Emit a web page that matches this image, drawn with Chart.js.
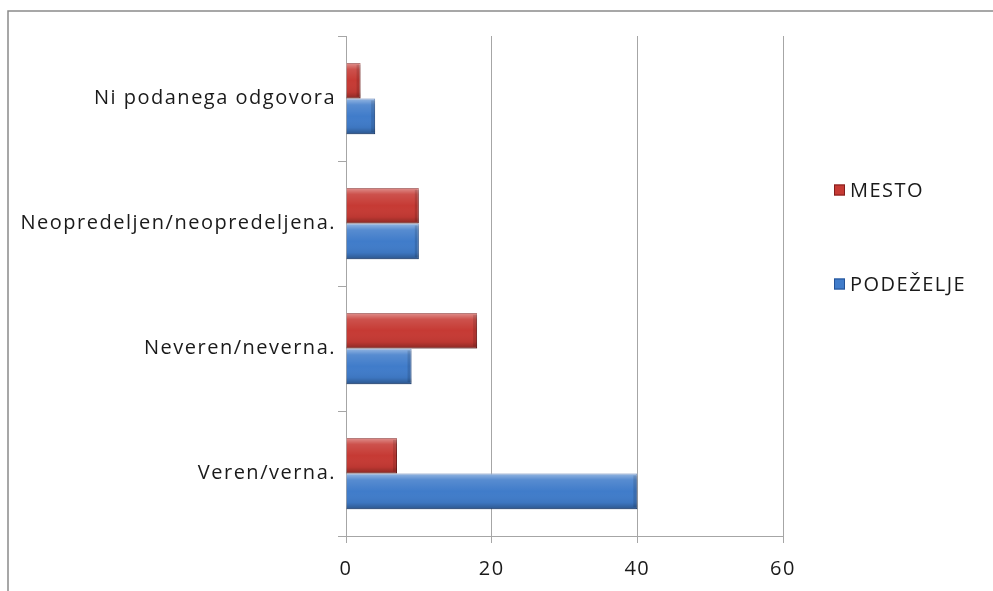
<!DOCTYPE html>
<html>
<head>
<meta charset="utf-8">
<script src="https://cdn.jsdelivr.net/npm/chart.js"></script>
<style>
  html, body { margin: 0; padding: 0; background: #fff; }
  #wrap { width: 993px; height: 591px; }
</style>
</head>
<body>
<div id="wrap"><canvas id="chart" width="993" height="591"></canvas></div>
<script>
const categories = ['Ni podanega odgovora', 'Neopredeljen/neopredeljena.', 'Neveren/neverna.', 'Veren/verna.']
const mesto = [2, 10, 18, 7]
const podezelje = [4, 10, 9, 40]
const xTicks = [0, 20, 40, 60]
const seriesNames = ['MESTO', 'PODEŽELJE']

const FONT = '"Open Sans", Lato, sans-serif'
const SPACING = '1.5px'
const fill = ['rgb(198, 58, 52)', 'rgb(64, 124, 202)']
const edge = ['rgb(130, 30, 28)', 'rgb(36, 82, 150)']

// outer frame like the office chart border
const framePlugin = {
    id: 'frame',
    beforeDraw(chart) {
        const ctx = chart.ctx
        ctx.letterSpacing = SPACING
        ctx.save()
        ctx.strokeStyle = '#8a8a8a'
        ctx.lineWidth = 1.5
        ctx.beginPath()
        ctx.moveTo(8, chart.height)
        ctx.lineTo(8, 11)
        ctx.lineTo(chart.width, 11)
        ctx.stroke()
        ctx.restore()
    }
}

// light top edge / dark bottom edge on every bar
const bevelPlugin = {
    id: 'bevel',
    afterDatasetsDraw(chart) {
        const ctx = chart.ctx
        ctx.save()
        chart.data.datasets.forEach((ds, i) => {
            chart.getDatasetMeta(i).data.forEach(bar => {
                const top = bar.y - bar.height / 2
                const left = Math.min(bar.base, bar.x)
                const w = Math.abs(bar.x - bar.base)
                const g = ctx.createLinearGradient(0, top, 0, top + bar.height)
                g.addColorStop(0, 'rgba(255,255,255,0.45)')
                g.addColorStop(0.18, 'rgba(255,255,255,0.12)')
                g.addColorStop(0.5, 'rgba(255,255,255,0)')
                g.addColorStop(0.82, 'rgba(0,0,0,0.05)')
                g.addColorStop(1, 'rgba(0,0,0,0.3)')
                ctx.fillStyle = g
                ctx.fillRect(left, top, w, bar.height)
                ctx.fillStyle = 'rgba(0,0,0,0.12)'
                ctx.fillRect(left + w - 4, top + 2, 4, bar.height - 4)
            })
        })
        ctx.restore()
    }
}

// legend on the right, two items spaced apart
const sideLegend = {
    id: 'sideLegend',
    afterDraw(chart) {
        const ctx = chart.ctx
        const area = chart.chartArea
        const x = area.right + 51
        const ys = [area.top + 154, area.top + 248]
        ctx.save()
        ctx.font = '20px ' + FONT
        ctx.textBaseline = 'middle'
        chart.data.datasets.forEach((ds, i) => {
            ctx.fillStyle = ds.backgroundColor
            ctx.fillRect(x, ys[i] - 5.5, 11, 11)
            ctx.strokeStyle = ds.borderColor
            ctx.lineWidth = 1
            ctx.strokeRect(x + 0.5, ys[i] - 5, 10, 10)
            ctx.fillStyle = '#1a1a1a'
            ctx.fillText(ds.label, x + 16, ys[i] + 1)
        })
        ctx.restore()
    }
}

new Chart(document.getElementById('chart'), {
    type: 'bar',
    data: {
        labels: categories,
        datasets: [{
            label: seriesNames[0],
            data: mesto,
            backgroundColor: fill[0],
            borderColor: edge[0],
            borderWidth: 1,
            categoryPercentage: 0.57,
            barPercentage: 1
        }, {
            label: seriesNames[1],
            data: podezelje,
            backgroundColor: fill[1],
            borderColor: edge[1],
            borderWidth: 1,
            categoryPercentage: 0.57,
            barPercentage: 1
        }]
    },
    options: {
        indexAxis: 'y',
        responsive: false,
        devicePixelRatio: 1,
        animation: false,
        layout: { padding: { left: 0, top: 36, right: 210, bottom: 0 } },
        plugins: {
            legend: { display: false },
            tooltip: { enabled: false }
        },
        scales: {
            x: {
                min: xTicks[0],
                max: xTicks[xTicks.length - 1],
                afterBuildTicks(scale) {
                    scale.ticks = xTicks.map(v => ({ value: v }))
                },
                afterFit(scale) { scale.height = 55 },
                grid: { color: '#a6a6a6', lineWidth: 1, tickLength: 7 },
                border: { color: '#a6a6a6' },
                ticks: { color: '#1a1a1a', font: { family: FONT, size: 20 }, padding: 14 }
            },
            y: {
                afterFit(scale) { scale.width = 346 },
                grid: { color: '#a6a6a6', drawOnChartArea: false, tickLength: 8, offset: true },
                border: { color: '#a6a6a6' },
                ticks: { color: '#1a1a1a', font: { family: FONT, size: 20 }, padding: 2 }
            }
        }
    },
    plugins: [framePlugin, bevelPlugin, sideLegend]
})
</script>
</body>
</html>
